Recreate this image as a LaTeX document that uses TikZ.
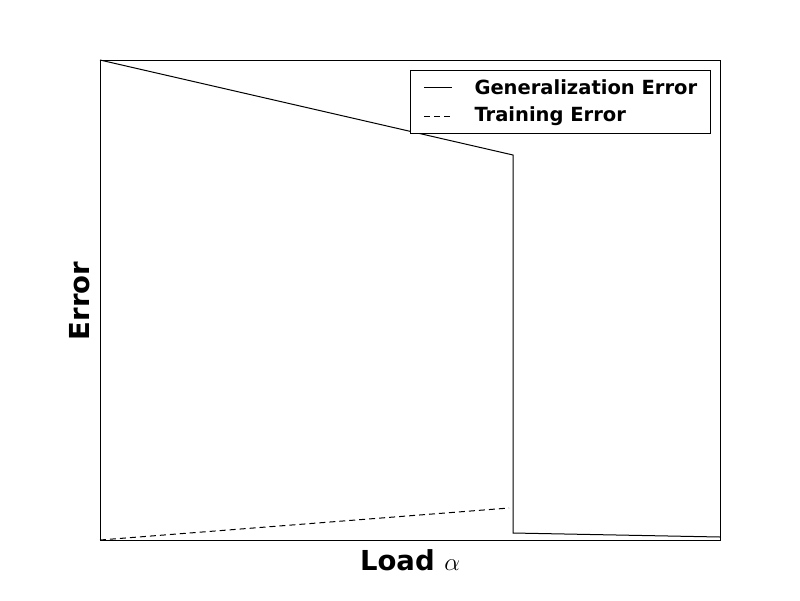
\documentclass[tikz,border=0pt]{standalone}
\usepackage{fontspec}
\setmainfont{DejaVu Sans}
\begin{document}
\begin{tikzpicture}[x=1pt,y=-1pt,line width=1pt,
  lab/.style={font=\fontsize{27.5}{32}\bfseries},
  leg/.style={font=\fontsize{19.5}{23}\bfseries,anchor=west,inner sep=0}]
\useasboundingbox (0,0) rectangle (800,600);
\draw (100,60) rectangle (720,540);
\coordinate (s0) at (100,60); \coordinate (s1) at (513,155);
\coordinate (s2) at (513,533); \coordinate (s3) at (720,537);
\draw (s0) -- (s1) -- (s2) -- (s3);
\coordinate (d0) at (100,540); \coordinate (d1) at (509,508);
\draw[dash pattern=on 6pt off 4pt] (d0) -- (d1);
\draw[fill=white] (410,70) rectangle (710,133);
\draw (424,87) -- (452,87);
\draw[dash pattern=on 6pt off 4pt] (424,116) -- (452,116);
\node[leg] (g) at (474,87) {Generalization Error};
\node[leg] (t) at (474,116) {Training Error};
\node[lab] (x) at (410,560) {Load $\alpha$};
\node[lab,rotate=90] (y) at (80,301) {Error};
\end{tikzpicture}
\end{document}
